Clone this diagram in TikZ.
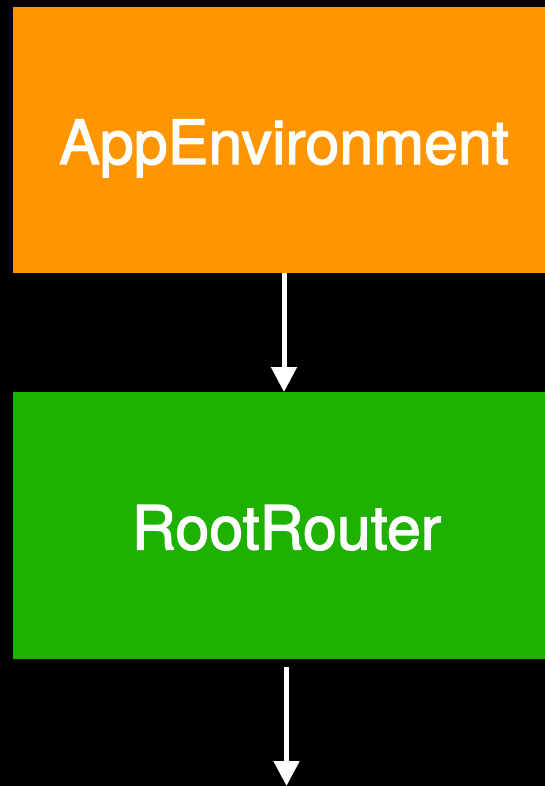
\documentclass[tikz,border=0pt]{standalone}
\usepackage{fontspec}
\setmainfont{TeX Gyre Heros}
\newfontfamily\boxfont{TeX Gyre Heros}[FakeBold=2]
\usetikzlibrary{arrows.meta}
\definecolor{apporange}{HTML}{FF9500}
\definecolor{appgreen}{HTML}{1EB100}
\begin{document}
\begin{tikzpicture}[x=1pt,y=-1pt,
  box/.style={rectangle, inner sep=0pt, outer sep=0pt, text=white,
    text height=48pt, text depth=0pt,
    font=\boxfont\fontsize{61}{70}\selectfont},
  conn/.style={draw=white, line width=5pt, -{Triangle[width=25pt,length=25pt]}}]
\useasboundingbox[fill=black] (0,0) rectangle (545,786);
\node[box, fill=apporange, minimum width=542pt, minimum height=266pt] (app) at (284,140) {AppEnvironment};
\node[box, fill=appgreen, minimum width=547pt, minimum height=267pt] (root) at (286.5,525.5) {RootRouter};
\coordinate (out) at (286.5,786);
\draw[conn] (app.south) -- (app.south |- root.north);
\draw[conn] ([yshift=-8pt]root.south) -- (out);
\end{tikzpicture}
\end{document}
